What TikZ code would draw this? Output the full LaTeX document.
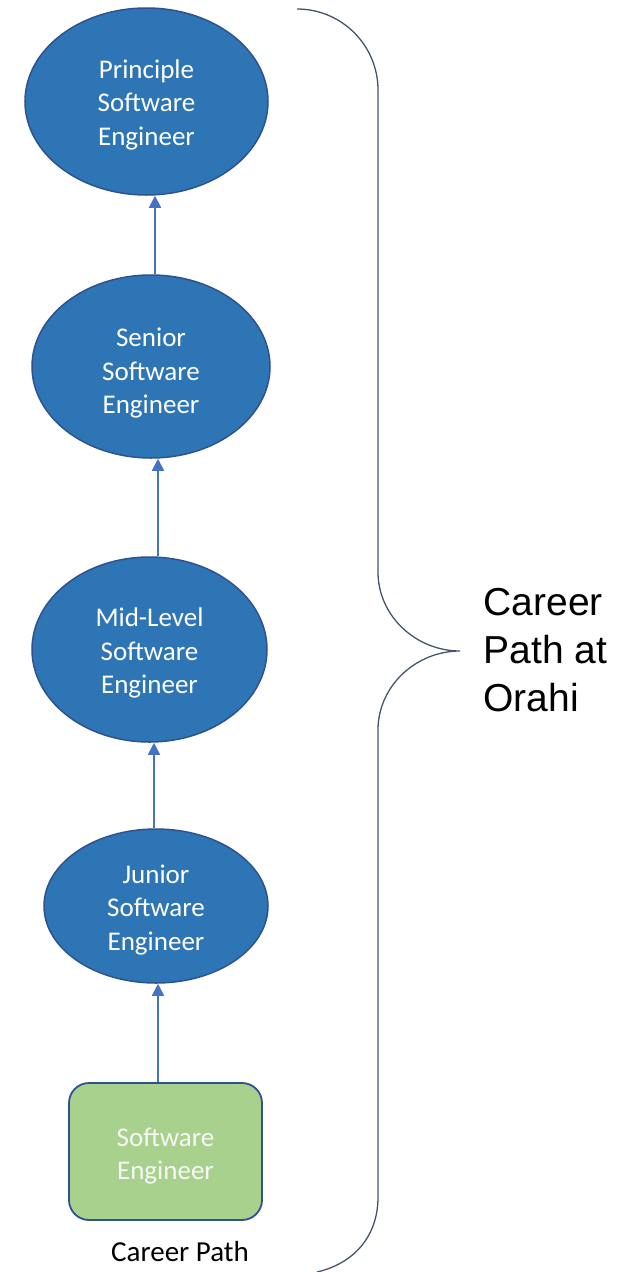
\documentclass[tikz,border=0pt]{standalone}
\usepackage{fontspec}
\setmainfont{Carlito}
\newfontfamily\bracefont{Liberation Sans}
\usetikzlibrary{shapes.geometric,arrows.meta}
\definecolor{ellfill}{HTML}{2E75B6}
\definecolor{ellline}{HTML}{2F528F}
\definecolor{boxfill}{HTML}{A9D18E}
\definecolor{arrcol}{HTML}{4472C4}
\definecolor{bracecol}{HTML}{44546A}
\newcommand{\toppad}[1]{\rule{0pt}{#1}}
\tikzset{
  stage/.style={ellipse, draw=ellline, fill=ellfill, line width=1.5pt, inner sep=0pt,
    text=white, align=center, font=\fontsize{27}{33.5}\selectfont},
  startbox/.style={rectangle, rounded corners=20pt, draw=ellline, fill=boxfill, line width=1.8pt,
    inner sep=0pt, text=white!94!gray, align=center, font=\fontsize{27}{33.5}\selectfont},
  arr/.style={draw=arrcol, line width=1.8pt, -{Triangle[length=12pt,width=12pt]}},
  bracestyle/.style={draw=bracecol, line width=1.3pt}
}
\begin{document}
\begin{tikzpicture}[x=1pt,y=-1pt]
\useasboundingbox (0,0) rectangle (639,1272);
\node[stage, minimum width=243pt, minimum height=187pt] (pse) at (146.5,101.5) {\toppad{25pt}Principle\\Software\\Engineer};
\node[stage, minimum width=238pt, minimum height=183pt] (sse) at (151,366.5) {\toppad{32pt}Senior\\Software\\Engineer};
\node[stage, minimum width=235pt, minimum height=185pt] (mse) at (149.5,649.5) {\toppad{26pt}Mid-Level\\Software\\Engineer};
\node[stage, minimum width=224pt, minimum height=154pt] (jse) at (156,906) {\toppad{26pt}Junior\\Software\\Engineer};
\node[startbox, minimum width=193pt, minimum height=137pt] (se) at (165.5,1151.5) {\toppad{28pt}Software\\Engineer};
\node[font=\fontsize{29}{32}\selectfont, text=black] (cp) at (180,1252) {Career Path};
\draw[arr] ([xshift=-7.5pt]se.north) -- ([xshift=2pt]jse.south);
\draw[arr] ([xshift=-2pt]jse.north) -- ([xshift=4.5pt]mse.south);
\draw[arr] ([xshift=8.5pt]mse.north) -- ([xshift=7pt]sse.south);
\draw[arr] ([xshift=4pt]sse.north) -- ([xshift=8.5pt]pse.south);
\coordinate (btop) at (297,9);
\coordinate (btip) at (460,651);
\coordinate (bbot) at (317,1272);
\draw[bracestyle] (btop) .. controls (341.7,9) and (378,45.3) .. (378,90) -- (378,572)
  .. controls (378,616) and (416,651) .. (btip)
  .. controls (416,651) and (378,686) .. (378,730) -- (378,1197)
  .. controls (378,1238) and (352,1264) .. (bbot);
\node[anchor=west, align=left, font=\bracefont\fontsize{39}{48}\selectfont] (lbl) at (480,650) {Career\\Path at\\Orahi};
\end{tikzpicture}
\end{document}
